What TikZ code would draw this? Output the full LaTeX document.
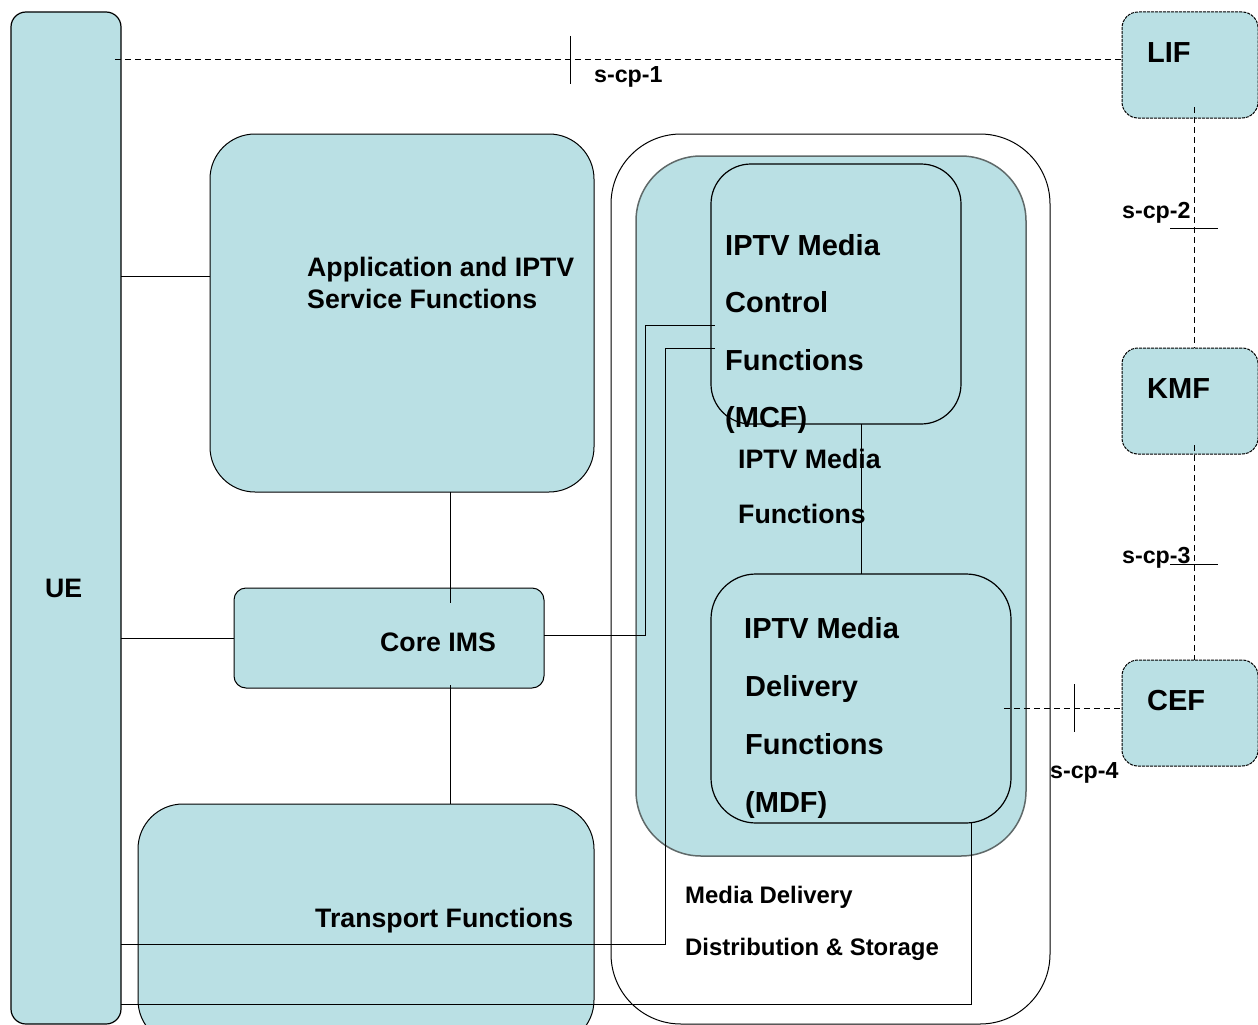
\documentclass[tikz,border=0pt]{standalone}
\usepackage{fontspec}
\setmainfont{Liberation Sans}
\usetikzlibrary{calc}
\definecolor{boxfill}{RGB}{186,224,228}
\definecolor{rimgray}{RGB}{95,105,105}
\begin{document}
\begin{tikzpicture}[x=1pt,y=-1pt,
  fnbox/.style={draw=black, line width=1.2pt, fill=boxfill, inner sep=0pt, outer sep=0pt},
  extbox/.style={draw=black, line width=1pt, dash pattern=on 3pt off 1pt, fill=boxfill,
                 rounded corners=16, inner sep=0pt, outer sep=0pt, minimum width=136, minimum height=106},
  link/.style={draw=black, line width=1pt},
  iface/.style={draw=black, line width=1pt, dash pattern=on 6pt off 4pt},
  tick/.style={draw=black, line width=1pt},
  big/.style={anchor=base west, inner sep=0pt, font=\bfseries\fontsize{29}{34}\selectfont},
  mid/.style={anchor=base west, inner sep=0pt, font=\bfseries\fontsize{26.7}{31}\selectfont},
  small/.style={anchor=base west, inner sep=0pt, font=\bfseries\fontsize{23.9}{28}\selectfont},
  refpt/.style={anchor=base west, inner sep=0pt, font=\bfseries\fontsize{23.2}{27}\selectfont}]
\useasboundingbox (0,0) rectangle (1258,1025);

% ---- left column: UE and the IMS side ----
\node[fnbox, rounded corners=15, minimum width=110, minimum height=1012] (ue) at (66,518) {};
\node[fnbox, line width=1pt, rounded corners=45, minimum width=384, minimum height=358] (app) at (402,313) {};
\node[fnbox, line width=1pt, rounded corners=12, minimum width=310, minimum height=100] (core) at (389,638) {};
\node[fnbox, line width=1pt, rounded corners=45, minimum width=456, minimum height=241] (transport) at (366,924.5) {};

% ---- media delivery, distribution and storage ----
\node[draw=black, line width=1pt, fill=white, rounded corners=70, minimum width=439, minimum height=890,
      inner sep=0pt, outer sep=0pt] (mdds) at (830.5,579) {};
\node[fnbox, draw=rimgray, line width=1.5pt, rounded corners=65, minimum width=390, minimum height=700] (mf) at (831,506) {};
\node[fnbox, rounded corners=40, minimum width=250, minimum height=260] (mcf) at (836,294) {};
\node[fnbox, rounded corners=45, minimum width=300, minimum height=249] (mdf) at (861,698.5) {};

% ---- external functions ----
\node[extbox] (lif) at (1190,65) {};
\node[extbox] (kmf) at (1190,401) {};
\node[extbox] (cef) at (1190,713) {};

% ---- texts ----
\node[mid] (tue) at (45,597) {UE};
\node[mid] (tapp1) at (307,276.5) {Application and IPTV};
\node[mid] (tapp2) at (307,308.5) {Service Functions};
\node[mid] (tcore) at (380,651.5) {Core IMS};
\node[mid] (ttr) at (315,927.5) {Transport Functions};
\node[big] (tmcf1) at (725,255.5) {IPTV Media};
\node[big] (tmcf2) at (725,312.5) {Control};
\node[big] (tmcf3) at (725,370.5) {Functions};
\node[big] (tmcf4) at (725,427.5) {(MCF)};
\node[mid] (tmf1) at (738,468.5) {IPTV Media};
\node[mid] (tmf2) at (738,523.5) {Functions};
\node[big] (tmdf1) at (744,638.5) {IPTV Media};
\node[big] (tmdf2) at (745,696.5) {Delivery};
\node[big] (tmdf3) at (745,754.5) {Functions};
\node[big] (tmdf4) at (745,812.5) {(MDF)};
\node[small] (tmd1) at (685,903.5) {Media Delivery};
\node[small] (tmd2) at (685,955.5) {Distribution \& Storage};
\node[big] (tlif) at (1147,62.5) {LIF};
\node[big] (tkmf) at (1147,398.5) {KMF};
\node[big] (tcef) at (1147,710.5) {CEF};

% ---- connector bend points ----
\coordinate (appUE) at (210,276);
\coordinate (imsX) at (450,0);
\coordinate (mcfA) at (715,325);
\coordinate (mcfB) at (715,348);
\coordinate (trA) at (121,944);
\coordinate (trB) at (121,1004);
\coordinate (mcfX) at (861,0);
\coordinate (mdfX) at (971,0);

% ---- solid reference points ----
\draw[link] (ue.east |- appUE) -- (appUE);
\draw[link] (ue.east |- core.west) -- (core.west);
\draw[link] (app.south -| imsX) -- ($(core.north -| imsX)+(0,15)$);
\draw[link] ($(core.south -| imsX)+(0,-3)$) -- (transport.north -| imsX);
\draw[link] (core.east |- 0,635) -- (645,635) -- (645,325) -- (mcfA);
\draw[link] (trA) -- (665,944) -- (665,348) -- (mcfB);
\draw[link] (trB) -- (trB -| mdfX) -- (mdf.south -| mdfX);
\draw[link] (mcf.south -| mcfX) -- (mdf.north -| mcfX);

% ---- dashed reference points ----
\draw[iface] (115,60) -- (lif.west |- 0,60);
\draw[tick] (570,36) -- (570,84);
\node[refpt] (scp1) at (594,82) {s-cp-1};

\draw[iface] ($(lif.south)+(4,-11)$) -- (kmf.north -| 1194,0);
\draw[tick] (1170,228) -- (1218,228);
\node[refpt] (scp2) at (1122,218) {s-cp-2};

\draw[iface] ($(kmf.south)+(4,-9)$) -- (cef.north -| 1194,0);
\draw[tick] (1170,564) -- (1218,564);
\node[refpt] (scp3) at (1122,563) {s-cp-3};

\draw[iface] (1004,708) -- (cef.west |- 0,708);
\draw[tick] (1074,684) -- (1074,732);
\node[refpt] (scp4) at (1050,778) {s-cp-4};
\end{tikzpicture}
\end{document}
